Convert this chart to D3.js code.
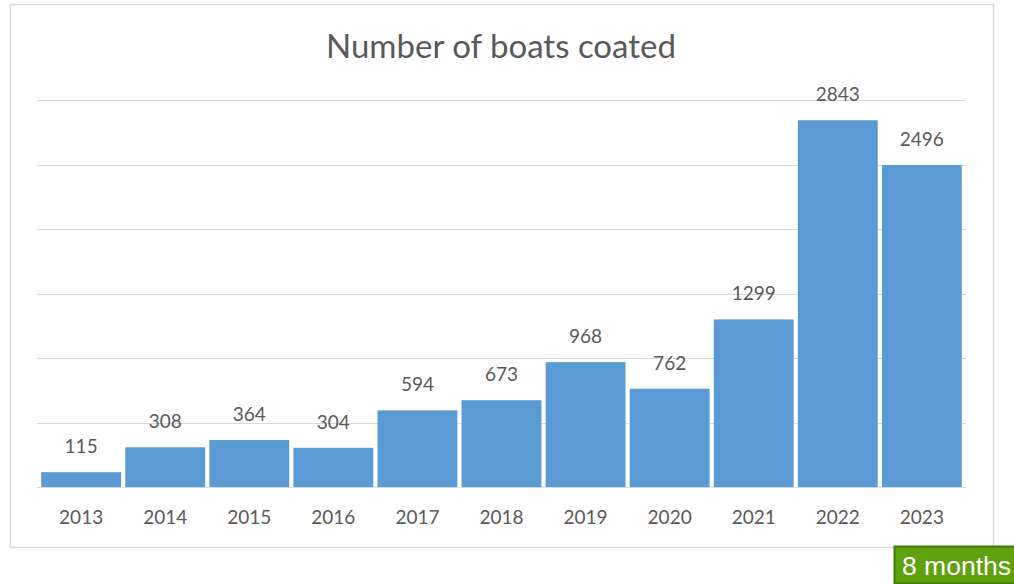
<!DOCTYPE html>
<html>
<head>
<meta charset="utf-8">
<script src="https://cdn.jsdelivr.net/npm/d3@7"></script>
<style>
  html, body { margin: 0; padding: 0; background: #fff; }
  svg { display: block; }
</style>
</head>
<body>
<div id="chart"></div>
<script>
const years = ["2013", "2014", "2015", "2016", "2017", "2018", "2019", "2020", "2021", "2022", "2023"];
const boats = [115, 308, 364, 304, 594, 673, 968, 762, 1299, 2843, 2496];
const gridTicks = [0, 500, 1000, 1500, 2000, 2500, 3000];

const W = 1014, H = 584;
const svg = d3.select("#chart").append("svg").attr("width", W).attr("height", H);

// chart frame
svg.append("rect")
  .attr("x", 10.5).attr("y", 4.5).attr("width", 983).attr("height", 543)
  .attr("fill", "#fff").attr("stroke", "#d9d9d9").attr("stroke-width", 1.5);

svg.append("text")
  .attr("x", 501).attr("y", 58)
  .attr("text-anchor", "middle")
  .attr("font-family", "Lato, 'Open Sans', sans-serif")
  .attr("font-size", 33)
  .attr("fill", "#595959")
  .text("Number of boats coated");

const x = d3.scaleBand().domain(years).range([37, 966]).paddingInner(0.05).paddingOuter(0.05);
const y = d3.scaleLinear().domain([0, 3000]).range([487, 100]);

// gridlines
svg.append("g").selectAll("line").data(gridTicks).join("line")
  .attr("x1", 37).attr("x2", 966)
  .attr("y1", d => Math.round(y(d)) + 0.5).attr("y2", d => Math.round(y(d)) + 0.5)
  .attr("stroke", "#d9d9d9").attr("stroke-width", 1.2);

// bars
svg.append("g").selectAll("rect").data(boats).join("rect")
  .attr("x", (d, i) => x(years[i]))
  .attr("width", x.bandwidth())
  .attr("y", d => y(d))
  .attr("height", d => y(0) - y(d))
  .attr("fill", "#5b9bd5");

// value labels
svg.append("g").selectAll("text").data(boats).join("text")
  .attr("x", (d, i) => x(years[i]) + x.bandwidth() / 2)
  .attr("y", d => y(d) - 19)
  .attr("text-anchor", "middle")
  .attr("font-family", "Lato, 'Open Sans', sans-serif")
  .attr("font-size", 19)
  .attr("fill", "#595959")
  .text(d => d);

// x axis labels
const xAxis = d3.axisBottom(x).tickSize(0).tickPadding(0);
const gx = svg.append("g").attr("transform", "translate(0,524)").call(xAxis);
gx.select(".domain").remove();
gx.selectAll("text")
  .attr("dy", 0)
  .attr("font-family", "Lato, 'Open Sans', sans-serif")
  .attr("font-size", 19)
  .attr("fill", "#595959");

// "8 months" badge
svg.append("rect")
  .attr("x", 894.5).attr("y", 546.5).attr("width", 125).attr("height", 37)
  .attr("fill", "#5fa10e").attr("stroke", "#3f7a08").attr("stroke-width", 2);
svg.append("text")
  .attr("x", 902).attr("y", 575)
  .attr("font-family", "'Liberation Sans', Arial, sans-serif")
  .attr("font-size", 26.5)
  .attr("fill", "#fff")
  .text("8 months");
</script>
</body>
</html>
